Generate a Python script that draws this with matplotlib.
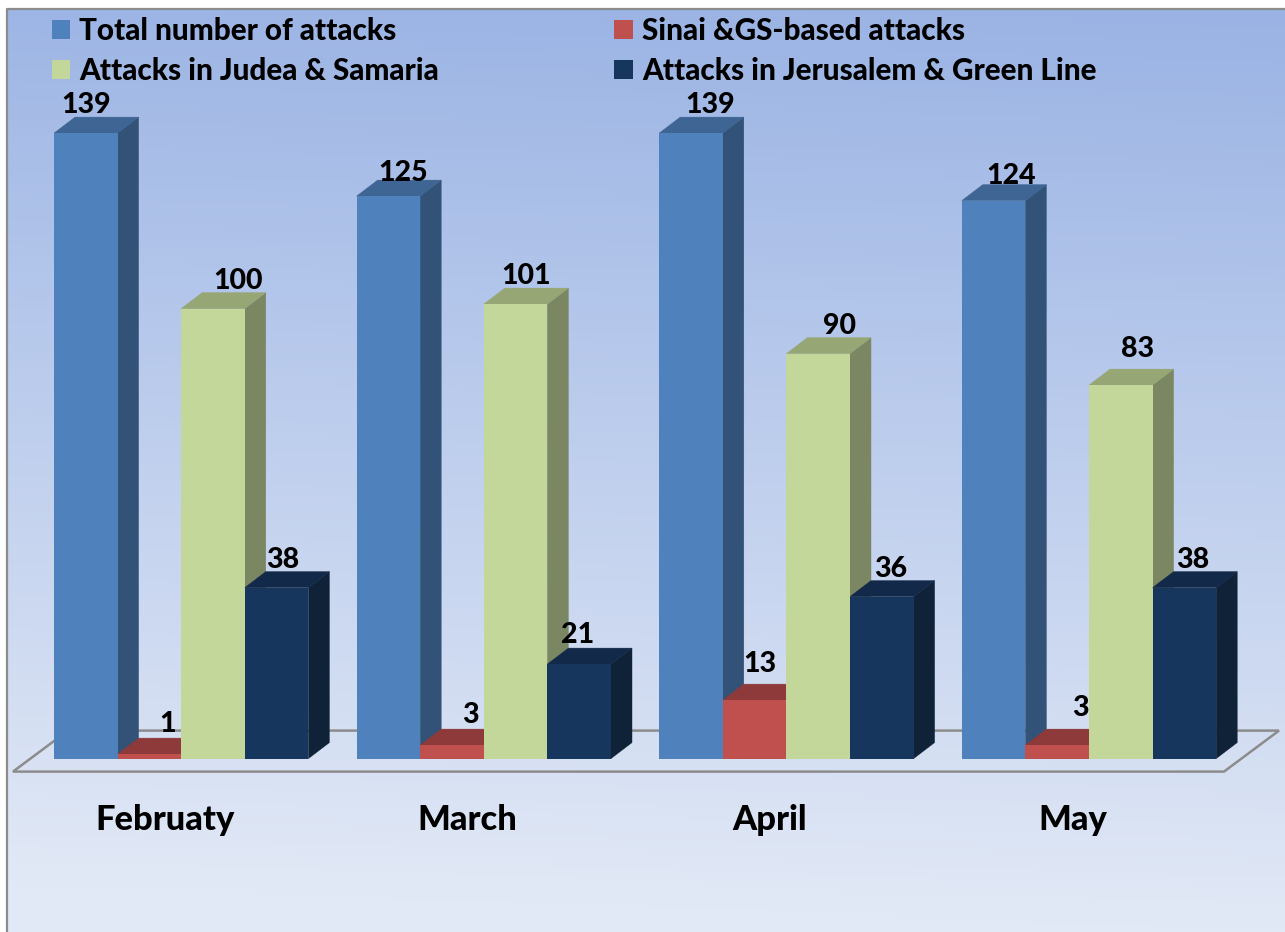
import matplotlib
matplotlib.use('Agg')
import matplotlib.pyplot as plt
import matplotlib.patches as patches
from matplotlib.lines import Line2D
import numpy as np

months = ['Februaty', 'March', 'April', 'May']
total_attacks = [139, 125, 139, 124]
sinai_gs = [1, 3, 13, 3]
judea_samaria = [100, 101, 90, 83]
jerusalem_green = [38, 21, 36, 38]

series_names = ['Total number of attacks', 'Sinai &GS-based attacks',
                'Attacks in Judea & Samaria', 'Attacks in Jerusalem & Green Line']
front_colors = ['#4f81bd', '#c0504d', '#c4d79b', '#17365d']
side_colors = ['#325278', '#7d3533', '#7b8763', '#0f2238']
top_colors = ['#3e6593', '#8f3a3a', '#97a675', '#12294a']

# label nudges in pixels (x, y above bar front top)
label_dx = [[0, 18, 25, 6], [15, 18, 10, -2], [19, 5, 21, 9], [18, 23, 17, 8]]
label_dy = [[28, 30, 28, 28], [23, 30, 28, 29], [28, 36, 28, 28], [25, 37, 36, 28]]

plt.rcParams['font.family'] = ['Lato', 'DejaVu Sans']

W, H = 1285, 932
PX_PER_UNIT = 4.5      # pixels per attack
GROUP_PX = 302.6       # pixels per month
FIRST_CENTER = 181.2   # pixel x of first month's center
BASE_PX = 758.6        # pixel y of zero
DX = 21 / GROUP_PX     # 3d depth
DY = 16 / PX_PER_UNIT
BAR_W = 63.6 / GROUP_PX

fig = plt.figure(figsize=(W / 100, H / 100), dpi=100)
ax = fig.add_axes([0, 0, 1, 1])
ax.axis('off')

# background gradient
grad_y = np.linspace(0, 1, 200)[:, None]
grad_x = np.linspace(0, 1, 200)[None, :]
t = np.clip(grad_y + 0.05 * (1 - grad_x), 0, 1)
c_top = np.array([154, 179, 228]) / 255
c_bottom = np.array([226, 233, 246]) / 255
grad = c_top + (c_bottom - c_top) * t[..., None]
ax.imshow(grad, extent=(7 / W, 1, 0, 1 - 9 / H), transform=ax.transAxes,
          aspect='auto', zorder=0)

ax.set_xlim(-FIRST_CENTER / GROUP_PX, (W - FIRST_CENTER) / GROUP_PX)
ax.set_ylim((BASE_PX - H) / PX_PER_UNIT, BASE_PX / PX_PER_UNIT)

# frame
ax.add_line(Line2D([7 / W, 7 / W, 1], [0, 1 - 9 / H, 1 - 9 / H], transform=ax.transAxes,
                   color='#8c8c8c', lw=1.6, zorder=1))

# floor
floor_left = (13 - FIRST_CENTER) / GROUP_PX
floor_right = (1224 - FIRST_CENTER) / GROUP_PX
floor_dx = 55 / GROUP_PX
floor_front = -13 / PX_PER_UNIT
floor_back = 28 / PX_PER_UNIT
ax.add_patch(patches.Polygon(
    [(floor_left, floor_front), (floor_right, floor_front),
     (floor_right + floor_dx, floor_back), (floor_left + floor_dx, floor_back)],
    closed=True, facecolor='none', edgecolor='#8c8c8c', linewidth=1.8, zorder=2))

series = [total_attacks, sinai_gs, judea_samaria, jerusalem_green]
z = 3
for g in range(len(months)):
    for b, values in enumerate(series):
        v = values[g]
        x0 = g + (b - 2) * BAR_W
        x1 = x0 + BAR_W
        # side and top first, the next bar covers them
        ax.add_patch(patches.Polygon([(x1, 0), (x1 + DX, DY), (x1 + DX, v + DY), (x1, v)],
                                     closed=True, facecolor=side_colors[b], edgecolor=side_colors[b],
                                     linewidth=0.3, zorder=z))
        ax.add_patch(patches.Polygon([(x0, v), (x1, v), (x1 + DX, v + DY), (x0 + DX, v + DY)],
                                     closed=True, facecolor=top_colors[b], edgecolor=top_colors[b],
                                     linewidth=0.3, zorder=z))
        ax.bar(x0, v, width=BAR_W, align='edge', color=front_colors[b], zorder=z + 1)
        z += 2

# value labels go above everything
for g in range(len(months)):
    for b, values in enumerate(series):
        v = values[g]
        xc = g + (b - 1.5) * BAR_W + label_dx[g][b] / GROUP_PX
        yc = v + label_dy[g][b] / PX_PER_UNIT
        ax.text(xc, yc, str(v), ha='center', va='center', fontsize=20.5,
                fontweight='black', color='black', zorder=100)

for g, name in enumerate(months):
    ax.text(g - 16.5 / GROUP_PX, (BASE_PX - 820.5) / PX_PER_UNIT, name, ha='center', va='center',
            fontsize=24.8, fontweight='black', color='black', zorder=100)

# legend fills by column, so left column comes first
legend_order = [0, 2, 1, 3]
handles = [patches.Patch(facecolor=front_colors[i], edgecolor='none') for i in legend_order]
labels = [series_names[i] for i in legend_order]
leg = ax.legend(handles, labels, ncols=2, frameon=False, loc='upper left',
                bbox_to_anchor=(46 / W, 1 - 11 / H), bbox_transform=ax.transAxes,
                prop={'family': 'Lato', 'weight': 'black', 'size': 21.3},
                handlelength=0.62, handleheight=0.62, handletextpad=0.31,
                labelspacing=0.40, columnspacing=5.92, borderpad=0.2, borderaxespad=0)
leg.set_zorder(100)

fig.savefig('out.png', dpi=100)
